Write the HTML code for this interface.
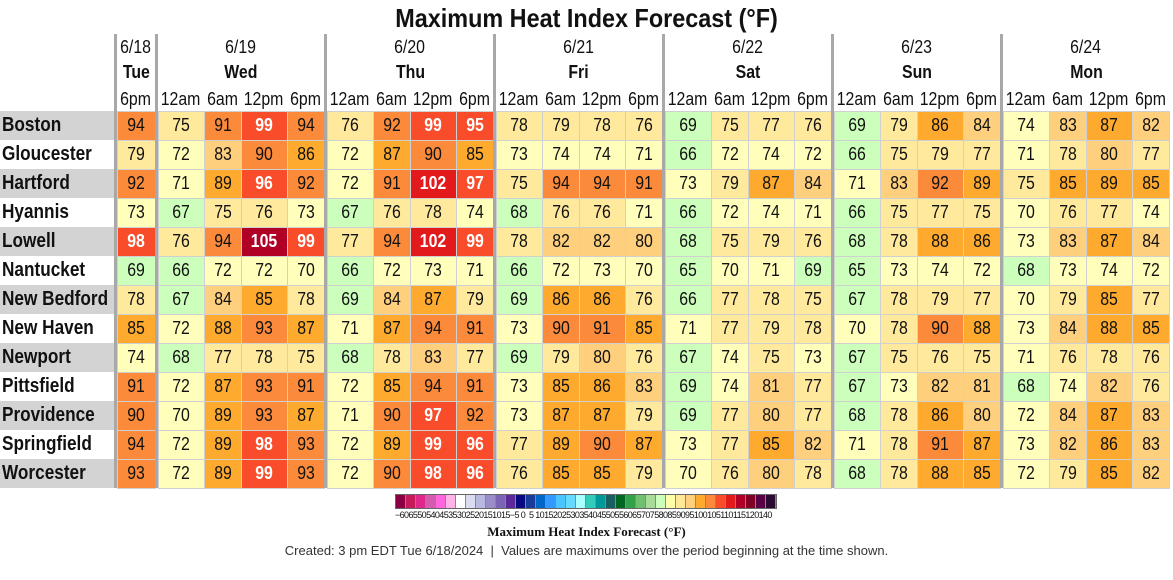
<!DOCTYPE html><html><head><meta charset="utf-8"><style>
body{margin:0;width:1173px;height:580px;background:#fff;position:relative;overflow:hidden;font-family:"Liberation Sans Narrow","Liberation Sans",sans-serif;color:#111}
div{position:absolute;box-sizing:border-box}
.c{text-align:center}
.cell{border:1px solid #d0d0d0;text-align:center;font-size:18px;line-height:27px}
.cell span,.h span{display:inline-block;transform:scaleX(.88)}
.lab{font-weight:bold;font-size:20px;line-height:29px;padding-left:2px;white-space:nowrap}
.lab span{display:inline-block;transform:scaleX(.86);transform-origin:left}
.h{font-size:18px;text-align:center;white-space:nowrap}
.sep{background:#a8a8a8;width:3px;top:34px;height:454px}
</style></head><body>
<div class="c" style="left:0;width:1173px;top:2px;font-size:26px;font-weight:bold;line-height:32px"><span style="display:inline-block;transform:scaleX(.9)">Maximum Heat Index Forecast (°F)</span></div>
<div id="g"></div>
<div id="cb" style="left:395px;top:494px;width:382px;height:15px;border:1px solid #666;display:flex"></div>
<div style="left:395px;top:510px;width:390px;font-size:9px;letter-spacing:-0.6px;white-space:nowrap;font-family:'Liberation Sans',sans-serif">−6065505404535302520151015−5 0&nbsp; 5 101520253035404550556065707580859095100105110115120140</div>
<div class="c" style="left:0;width:1173px;top:524px;font-size:13px;font-weight:bold;font-family:'Liberation Serif',serif">Maximum Heat Index Forecast (°F)</div>
<div class="c" style="left:0;width:1173px;top:543px;font-size:13px;color:#333">Created: 3 pm EDT Tue 6/18/2024 &nbsp;|&nbsp; Values are maximums over the period beginning at the time shown.</div>
<script>
var names=["Boston","Gloucester","Hartford","Hyannis","Lowell","Nantucket","New Bedford","New Haven","Newport","Pittsfield","Providence","Springfield","Worcester"];
var d=[
"94 75 91 99 94 76 92 99 95 78 79 78 76 69 75 77 76 69 79 86 84 74 83 87 82",
"79 72 83 90 86 72 87 90 85 73 74 74 71 66 72 74 72 66 75 79 77 71 78 80 77",
"92 71 89 96 92 72 91 102 97 75 94 94 91 73 79 87 84 71 83 92 89 75 85 89 85",
"73 67 75 76 73 67 76 78 74 68 76 76 71 66 72 74 71 66 75 77 75 70 76 77 74",
"98 76 94 105 99 77 94 102 99 78 82 82 80 68 75 79 76 68 78 88 86 73 83 87 84",
"69 66 72 72 70 66 72 73 71 66 72 73 70 65 70 71 69 65 73 74 72 68 73 74 72",
"78 67 84 85 78 69 84 87 79 69 86 86 76 66 77 78 75 67 78 79 77 70 79 85 77",
"85 72 88 93 87 71 87 94 91 73 90 91 85 71 77 79 78 70 78 90 88 73 84 88 85",
"74 68 77 78 75 68 78 83 77 69 79 80 76 67 74 75 73 67 75 76 75 71 76 78 76",
"91 72 87 93 91 72 85 94 91 73 85 86 83 69 74 81 77 67 73 82 81 68 74 82 76",
"90 70 89 93 87 71 90 97 92 73 87 87 79 69 77 80 77 68 78 86 80 72 84 87 83",
"94 72 89 98 93 72 89 99 96 77 89 90 87 73 77 85 82 71 78 91 87 73 82 86 83",
"93 72 89 99 93 72 90 98 96 76 85 85 79 70 76 80 78 68 78 88 85 72 79 85 82"];
function col(v){if(v>=105)return"#b10026";if(v>=100)return"#e31a1c";if(v>=95)return"#f84c2b";if(v>=90)return"#fb8a3a";if(v>=85)return"#fdaa2e";if(v>=80)return"#fed07e";if(v>=75)return"#ffe99c";if(v>=70)return"#ffffbb";return"#ccffbb";}
var xs=[[117,38]],times=["12am","6am","12pm","6pm"],off=[0,46,83,129],w=[46,37,46,37];
for(var k=0;k<6;k++)for(var j=0;j<4;j++)xs.push([158+169*k+off[j],w[j]]);
var h="";
var dates=["6/19","6/20","6/21","6/22","6/23","6/24"],days=["Wed","Thu","Fri","Sat","Sun","Mon"];
h+='<div class="h" style="left:117px;width:38px;top:37px"><span>6/18</span></div><div class="h" style="left:117px;width:38px;top:62px;font-weight:bold"><span>Tue</span></div><div class="h" style="left:115px;width:42px;top:89px"><span>6pm</span></div>';
for(k=0;k<6;k++){var x=158+169*k;h+='<div class="h" style="left:'+x+'px;width:166px;top:37px"><span>'+dates[k]+'</span></div><div class="h" style="left:'+x+'px;width:166px;top:62px;font-weight:bold"><span>'+days[k]+'</span></div>';
for(j=0;j<4;j++)h+='<div class="h" style="left:'+(x+off[j]-4)+'px;width:'+(w[j]+8)+'px;top:89px"><span>'+times[j]+'</span></div>';}
for(var r=0;r<13;r++){var y=111+29*r;var vals=d[r].split(" ");
h+='<div class="lab" style="left:0;top:'+y+'px;width:114px;height:29px;background:'+(r%2==0?"#d3d3d3":"#fff")+'"><span>'+names[r]+'</span></div>';
for(var i=0;i<25;i++){var v=+vals[i];var wh=v>=95;
h+='<div class="cell" style="left:'+xs[i][0]+'px;top:'+y+'px;width:'+(xs[i][1]+1)+'px;height:30px;background:'+col(v)+';'+(wh?'color:#fff;font-weight:bold':'')+'"><span>'+v+'</span></div>';}}
h+='<div class="sep" style="left:114px"></div>';
for(k=0;k<6;k++)h+='<div class="sep" style="left:'+(155+169*k)+'px"></div>';
document.getElementById("g").innerHTML=h;
var cs="#8b0045,#c51b5a,#e0288a,#d45bad,#ff66dd,#ffb3e6,#ffffff,#dcdcf0,#b8b8e0,#9a8ec8,#7a64b4,#5b2a98,#0a0a80,#1a3a9a,#0066c8,#3399ff,#4cc4ff,#66d9ff,#aaffff,#33ccbb,#009999,#1a5f5f,#006622,#33a04a,#70c070,#a8dc98,#ccffbb,#ffffaa,#ffe999,#fed07e,#fdaa2e,#fb8a3a,#f84c2b,#e31a1c,#b10026,#800026,#5a0045,#2a0a30".split(",");
var cb="";cs.forEach(function(c){cb+='<span style="flex:1;background:'+c+';border-right:1px solid #888"></span>'});
document.getElementById("cb").innerHTML=cb;
</script></body></html>
